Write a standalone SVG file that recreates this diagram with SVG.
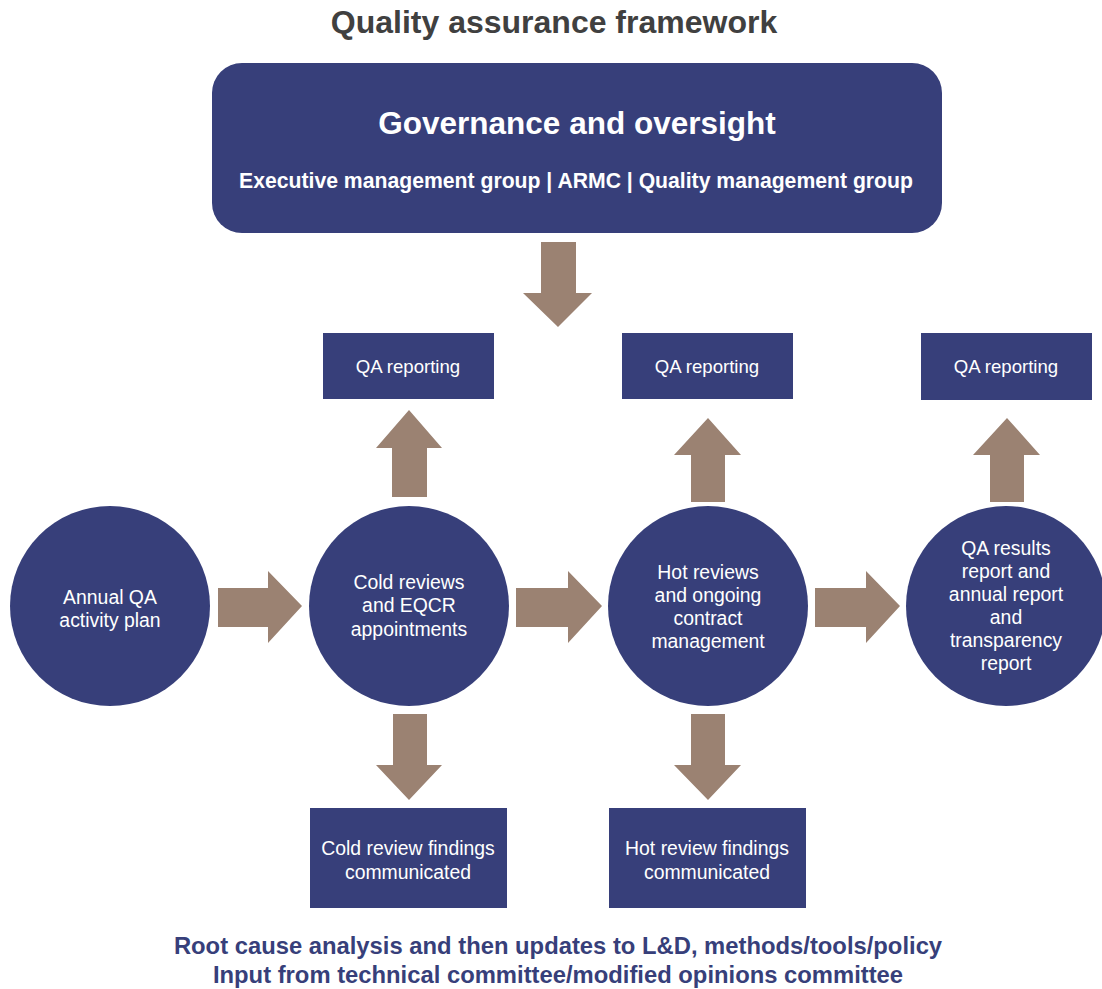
<svg xmlns="http://www.w3.org/2000/svg" width="1102" height="989" viewBox="0 0 1102 989">
  <style>
    .navy { fill: #373f7a; }
    .arrow { fill: #9b8272; }
    .title { font-family: "Liberation Sans", Arial, sans-serif; font-weight: bold; font-size: 32px; fill: #404040; text-anchor: middle; }
    .head { font-family: "Liberation Sans", Arial, sans-serif; font-weight: bold; font-size: 31.5px; fill: #ffffff; text-anchor: middle; }
    .sub { font-family: "Liberation Sans", Arial, sans-serif; font-weight: bold; font-size: 21.2px; fill: #ffffff; text-anchor: middle; }
    .lbl { font-family: "Liberation Sans", Arial, sans-serif; font-size: 19.4px; fill: #ffffff; text-anchor: middle; }
    .lbl.small { font-size: 18.6px; }
    .foot { font-family: "Liberation Sans", Arial, sans-serif; font-weight: bold; font-size: 23.8px; fill: #373f7a; text-anchor: middle; }
  </style>
  <rect width="1102" height="989" fill="#ffffff"/>

  <text class="title" x="554" y="33">Quality assurance framework</text>

  <g id="governance">
    <rect class="navy" x="212" y="63" width="730" height="170" rx="30" ry="30"/>
    <text class="head" x="577" y="134">Governance and oversight</text>
    <text class="sub" x="576" y="188">Executive management group | ARMC | Quality management group</text>
  </g>

  <g id="connectors">
    <!-- governance down -->
    <polygon class="arrow" points="541,242 576,242 576,293 592,293 558,327 523,293 541,293"/>
    <!-- up to QA reporting -->
    <polygon class="arrow" points="392,497 392,448 376,448 409,410 442,448 427,448 427,497"/>
    <polygon class="arrow" points="691,502 691,455 674,455 708,418 741,455 725,455 725,502"/>
    <polygon class="arrow" points="990,502 990,455 973,455 1007,418 1040,455 1024,455 1024,502"/>
    <!-- right arrows between circles -->
    <polygon class="arrow" points="218,588 268,588 268,571 302,606 268,643 268,627 218,627"/>
    <polygon class="arrow" points="516,588 568,588 568,571 602,606 568,643 568,627 516,627"/>
    <polygon class="arrow" points="815,588 866,588 866,571 900,606 866,643 866,627 815,627"/>
    <!-- down to findings -->
    <polygon class="arrow" points="393,714 427,714 427,765 442,765 409,800 376,765 393,765"/>
    <polygon class="arrow" points="691,714 725,714 725,765 741,765 708,800 674,765 691,765"/>
  </g>

  <g id="qa-reporting-1">
    <rect class="navy" x="323" y="333" width="171" height="66"/>
    <text class="lbl small" x="408" y="373">QA reporting</text>
  </g>
  <g id="qa-reporting-2">
    <rect class="navy" x="622" y="333" width="171" height="66"/>
    <text class="lbl small" x="707" y="373">QA reporting</text>
  </g>
  <g id="qa-reporting-3">
    <rect class="navy" x="921" y="333" width="171" height="67"/>
    <text class="lbl small" x="1006" y="373">QA reporting</text>
  </g>

  <g id="annual-plan">
    <circle class="navy" cx="110" cy="606" r="100"/>
    <text class="lbl" x="110" y="604">Annual QA</text>
    <text class="lbl" x="110" y="627">activity plan</text>
  </g>
  <g id="cold-reviews">
    <circle class="navy" cx="409" cy="606" r="100"/>
    <text class="lbl" x="409" y="589">Cold reviews</text>
    <text class="lbl" x="409" y="612">and EQCR</text>
    <text class="lbl" x="409" y="636">appointments</text>
  </g>
  <g id="hot-reviews">
    <circle class="navy" cx="708" cy="606" r="100"/>
    <text class="lbl" x="708" y="579">Hot reviews</text>
    <text class="lbl" x="708" y="602">and ongoing</text>
    <text class="lbl" x="708" y="625">contract</text>
    <text class="lbl" x="708" y="648">management</text>
  </g>
  <g id="qa-results">
    <circle class="navy" cx="1006" cy="606" r="100"/>
    <text class="lbl" x="1006" y="555">QA results</text>
    <text class="lbl" x="1006" y="578">report and</text>
    <text class="lbl" x="1006" y="601">annual report</text>
    <text class="lbl" x="1006" y="624">and</text>
    <text class="lbl" x="1006" y="647">transparency</text>
    <text class="lbl" x="1006" y="670">report</text>
  </g>

  <g id="cold-findings">
    <rect class="navy" x="310" y="808" width="197" height="100"/>
    <text class="lbl" x="408" y="855">Cold review findings</text>
    <text class="lbl" x="408" y="879">communicated</text>
  </g>
  <g id="hot-findings">
    <rect class="navy" x="609" y="808" width="197" height="100"/>
    <text class="lbl" x="707" y="855">Hot review findings</text>
    <text class="lbl" x="707" y="879">communicated</text>
  </g>

  <g id="footer">
    <text class="foot" x="558" y="954">Root cause analysis and then updates to L&amp;D, methods/tools/policy</text>
    <text class="foot" x="558" y="983">Input from technical committee/modified opinions committee</text>
  </g>
</svg>
